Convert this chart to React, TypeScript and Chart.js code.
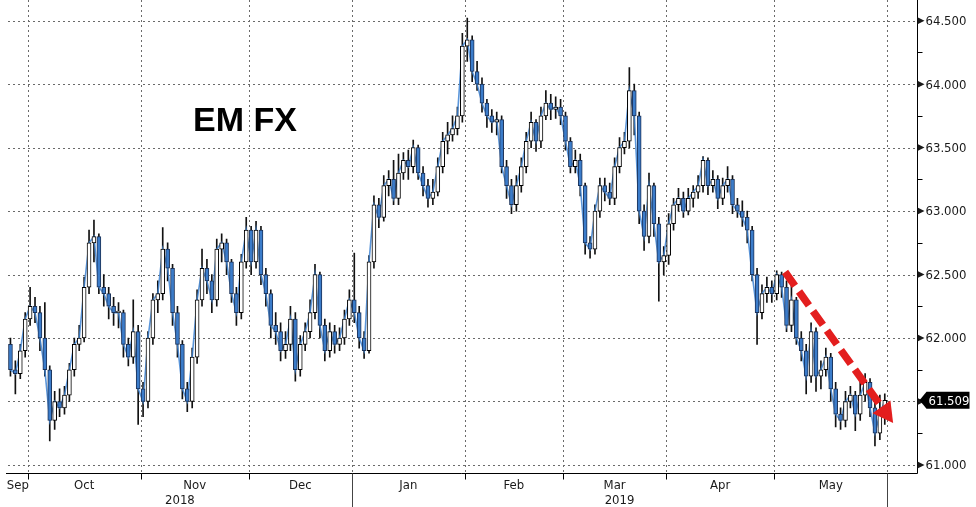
import { useEffect, useRef } from 'react';
import { Chart, registerables } from 'chart.js';

Chart.register(...registerables);

// ---------- data ----------
const START_DATE = '2018-09-25';
const SLOT_COUNT = 185; // trading-day slots on the x axis (data + empty space on the right)
const FIRST_OPEN = 61.95;

const closes = [
  61.75, 61.72, 61.90, 62.15, 62.25, 62.20, 62.00, 61.75, 61.35, 61.50,
  61.45, 61.55, 61.75, 61.95, 62.00, 62.40, 62.75, 62.80, 62.40, 62.35,
  62.25, 62.20, 62.20, 61.95, 61.85, 62.05, 61.60, 61.50, 62.00, 62.30,
  62.35, 62.70, 62.55, 62.20, 61.95, 61.60, 61.50, 61.85, 62.30, 62.55,
  62.45, 62.30, 62.70, 62.75, 62.60, 62.35, 62.20, 62.60, 62.85, 62.60,
  62.85, 62.50, 62.35, 62.10, 62.05, 61.90, 61.95, 62.15, 61.75, 61.95,
  62.05, 62.20, 62.50, 62.10, 61.90, 62.05, 61.95, 62.00, 62.15, 62.30,
  62.20, 62.00, 61.90, 62.60, 63.05, 62.95, 63.20, 63.25, 63.10, 63.30,
  63.40, 63.35, 63.50, 63.30, 63.20, 63.10, 63.15, 63.35, 63.55, 63.60,
  63.65, 63.75, 64.30, 64.35, 64.10, 64.00, 63.85, 63.75, 63.70, 63.72,
  63.35, 63.20, 63.05, 63.20, 63.35, 63.55, 63.70, 63.55, 63.75, 63.85,
  63.80, 63.82, 63.75, 63.55, 63.35, 63.40, 63.20, 62.75, 62.70, 63.00,
  63.20, 63.15, 63.10, 63.35, 63.50, 63.55, 63.95, 63.75, 63.00, 62.80,
  63.20, 62.90, 62.60, 62.65, 62.90, 63.05, 63.10, 63.00, 63.10, 63.15,
  63.20, 63.40, 63.20, 63.25, 63.10, 63.20, 63.25, 63.05, 63.00, 62.95,
  62.85, 62.50, 62.20, 62.35, 62.40, 62.35, 62.50, 62.40, 62.10, 62.30,
  62.00, 61.90, 61.70, 62.05, 61.70, 61.75, 61.85, 61.60, 61.40, 61.35,
  61.50, 61.55, 61.40, 61.55, 61.65, 61.45, 61.25, 61.40, 61.509,
];

const highs = [
  62.00, 61.82, 61.95, 62.20, 62.40, 62.32, 62.25, 62.28, 61.78, 61.58,
  61.60, 61.62, 61.80, 62.00, 62.10, 62.48, 62.85, 62.93, 62.82, 62.50,
  62.40, 62.32, 62.28, 62.22, 62.00, 62.30, 62.10, 61.65, 62.05, 62.35,
  62.45, 62.87, 62.75, 62.58, 62.25, 61.98, 61.65, 61.92, 62.38, 62.70,
  62.62, 62.50, 62.78, 62.82, 62.78, 62.62, 62.40, 62.66, 62.95, 62.88,
  62.92, 62.88, 62.55, 62.38, 62.20, 62.12, 62.05, 62.25, 62.20, 62.02,
  62.12, 62.30, 62.58, 62.52, 62.15, 62.12, 62.10, 62.08, 62.22, 62.38,
  62.67, 62.25, 62.05, 62.65, 63.12, 63.10, 63.28, 63.32, 63.40, 63.45,
  63.46, 63.48, 63.56, 63.52, 63.35, 63.25, 63.25, 63.42, 63.62, 63.70,
  63.75, 63.82, 64.40, 64.52, 64.38, 64.18, 64.05, 63.88, 63.80, 63.78,
  63.75, 63.40, 63.25, 63.28, 63.42, 63.62, 63.78, 63.72, 63.82, 63.95,
  63.92, 63.90, 63.88, 63.78, 63.58, 63.48, 63.45, 63.22, 62.80, 63.05,
  63.26, 63.26, 63.22, 63.42, 63.58, 63.62, 64.13, 64.00, 63.78, 63.05,
  63.30, 63.22, 62.95, 62.72, 62.98, 63.10, 63.18, 63.15, 63.18, 63.20,
  63.28, 63.43, 63.42, 63.32, 63.28, 63.26, 63.35, 63.28, 63.10, 63.08,
  63.00, 62.88, 62.55, 62.42, 62.48, 62.45, 62.53, 62.52, 62.45, 62.42,
  62.32, 62.05, 61.95, 62.12, 62.08, 61.82, 61.92, 61.88, 61.65, 61.45,
  61.58, 61.62, 61.58, 61.65, 61.72, 61.68, 61.50, 61.55, 61.56,
];

const lows = [
  61.70, 61.56, 61.68, 61.85, 62.10, 62.12, 61.90, 61.70, 61.19, 61.28,
  61.38, 61.40, 61.50, 61.70, 61.90, 61.97, 62.35, 62.60, 62.35, 62.25,
  62.15, 62.10, 62.08, 61.85, 61.78, 61.80, 61.32, 61.38, 61.45, 61.95,
  62.20, 62.30, 62.45, 62.10, 61.85, 61.52, 61.42, 61.45, 61.80, 62.25,
  62.35, 62.20, 62.25, 62.60, 62.50, 62.28, 62.10, 62.15, 62.55, 62.50,
  62.55, 62.42, 62.25, 62.00, 61.95, 61.82, 61.84, 61.90, 61.66, 61.70,
  61.90, 62.00, 62.15, 62.00, 61.82, 61.85, 61.88, 61.90, 61.95, 62.10,
  62.12, 61.92, 61.84, 61.88, 62.55, 62.87, 62.92, 63.12, 63.05, 63.05,
  63.25, 63.25, 63.30, 63.25, 63.12, 63.03, 63.05, 63.12, 63.30, 63.45,
  63.55, 63.60, 63.70, 64.18, 64.02, 63.95, 63.78, 63.66, 63.62, 63.60,
  63.30, 63.10, 62.98, 63.00, 63.15, 63.30, 63.50, 63.47, 63.50, 63.72,
  63.72, 63.73, 63.68, 63.48, 63.30, 63.30, 63.12, 62.66, 62.63, 62.66,
  62.95, 63.08, 63.05, 63.05, 63.30, 63.45, 63.50, 63.60, 62.90, 62.69,
  62.75, 62.80, 62.29, 62.50, 62.58, 62.85, 63.00, 62.95, 62.97, 63.03,
  63.10, 63.15, 63.13, 63.15, 63.02, 63.05, 63.15, 62.98, 62.95, 62.88,
  62.75, 62.45, 61.95, 62.15, 62.28, 62.28, 62.30, 62.32, 62.05, 62.05,
  61.95, 61.82, 61.56, 61.65, 61.58, 61.60, 61.70, 61.50, 61.30, 61.28,
  61.30, 61.45, 61.27, 61.35, 61.50, 61.38, 61.15, 61.20, 61.32,
];

const Y_MIN = 60.939;
const Y_MAX = 64.663;
const yMajorTicks = [61.0, 61.5, 62.0, 62.5, 63.0, 63.5, 64.0, 64.5];
const yMinorTicks = [61.25, 61.75, 62.25, 62.75, 63.25, 63.75, 64.25];
const monthNames = ['Jan', 'Feb', 'Mar', 'Apr', 'May', 'Jun', 'Jul', 'Aug', 'Sep', 'Oct', 'Nov', 'Dec'];
const LAST_VALUE = 61.509;
const TITLE = 'EM FX';
const arrowFrom = { index: 157.7, value: 62.52 };
const arrowTo = { index: 179.7, value: 61.33 };

// ---------- helpers ----------
function tradingDays(start: string, n: number): string[] {
  const out: string[] = [];
  const d = new Date(start + 'T00:00:00Z');
  while (out.length < n) {
    const wd = d.getUTCDay();
    if (wd !== 0 && wd !== 6) out.push(d.toISOString().slice(0, 10));
    d.setUTCDate(d.getUTCDate() + 1);
  }
  return out;
}

const labels = tradingDays(START_DATE, SLOT_COUNT);
const opens = closes.map((c, i) => (i === 0 ? FIRST_OPEN : closes[i - 1]));
const isUp = closes.map((c, i) => c >= opens[i]);

const AXIS_FONT = '13px "DejaVu Sans Condensed", "Liberation Sans Narrow", "DejaVu Sans", sans-serif';

const overlayPlugin = {
  id: 'overlay',
  beforeDatasetsDraw(chart: any) {
    const { ctx, chartArea, scales } = chart;
    const xs = scales.x;
    const ys = scales.y;
    const w = xs.getPixelForValue(1) - xs.getPixelForValue(0);
    ctx.save();
    ctx.strokeStyle = '#6a6a6a';
    ctx.lineWidth = 1;
    ctx.setLineDash([2, 3]);
    yMajorTicks.forEach((v) => {
      const y = Math.round(ys.getPixelForValue(v)) + 0.5;
      ctx.beginPath();
      ctx.moveTo(chartArea.left, y);
      ctx.lineTo(chartArea.right, y);
      ctx.stroke();
    });
    for (let i = 1; i < labels.length; i++) {
      if (labels[i].slice(5, 7) !== labels[i - 1].slice(5, 7)) {
        const x = Math.round(xs.getPixelForValue(i) - w / 2) + 0.5;
        ctx.beginPath();
        ctx.moveTo(x, chartArea.top);
        ctx.lineTo(x, chartArea.bottom);
        ctx.stroke();
      }
    }
    ctx.restore();
  },
  afterDatasetsDraw(chart: any) {
    const { ctx, chartArea, scales } = chart;
    const xs = scales.x;
    const ys = scales.y;
    const w = xs.getPixelForValue(1) - xs.getPixelForValue(0);
    const H = chart.height;
    ctx.save();
    ctx.strokeStyle = '#000';
    ctx.lineWidth = 1;
    ctx.setLineDash([]);
    const bx = Math.round(chartArea.right) + 0.5;
    const by = Math.round(chartArea.bottom) + 0.5;
    ctx.beginPath();
    ctx.moveTo(bx, chartArea.top);
    ctx.lineTo(bx, by);
    ctx.moveTo(chartArea.left - 2, by);
    ctx.lineTo(bx, by);
    ctx.stroke();

    ctx.font = AXIS_FONT;
    ctx.fillStyle = '#1a1a1a';
    ctx.textBaseline = 'middle';
    ctx.textAlign = 'left';
    yMinorTicks.forEach((v) => {
      const y = Math.round(ys.getPixelForValue(v)) + 0.5;
      ctx.beginPath();
      ctx.moveTo(bx, y);
      ctx.lineTo(bx + 5, y);
      ctx.stroke();
    });
    yMajorTicks.forEach((v) => {
      const y = ys.getPixelForValue(v);
      ctx.beginPath();
      ctx.moveTo(bx, y - 3.5);
      ctx.lineTo(bx + 7, y);
      ctx.lineTo(bx, y + 3.5);
      ctx.closePath();
      ctx.fill();
      ctx.fillText(v.toFixed(3), bx + 8, y + 1);
    });

    const dataLen = closes.length;
    const boundaries: number[] = [];
    for (let i = 1; i < labels.length; i++) {
      if (labels[i].slice(5, 7) !== labels[i - 1].slice(5, 7)) boundaries.push(i);
    }
    boundaries.forEach((i) => {
      const x = Math.round(xs.getPixelForValue(i) - w / 2) + 0.5;
      const long = labels[i].slice(0, 4) !== labels[i - 1].slice(0, 4) || i === dataLen;
      ctx.beginPath();
      ctx.moveTo(x, by);
      ctx.lineTo(x, long ? H : by + 6);
      ctx.strokeStyle = long ? '#444' : '#000';
      ctx.stroke();
    });
    ctx.textAlign = 'center';
    ctx.fillStyle = '#1a1a1a';
    let segStart = 0;
    for (let i = 1; i <= dataLen; i++) {
      if (i === dataLen || labels[i].slice(5, 7) !== labels[i - 1].slice(5, 7)) {
        const x0 = xs.getPixelForValue(segStart) - w / 2;
        const x1 = xs.getPixelForValue(i) - w / 2;
        const m = parseInt(labels[segStart].slice(5, 7), 10) - 1;
        ctx.fillText(monthNames[m], (x0 + x1) / 2, by + 12);
        segStart = i;
      }
    }
    segStart = 0;
    for (let i = 1; i <= dataLen; i++) {
      if (i === dataLen || labels[i].slice(0, 4) !== labels[i - 1].slice(0, 4)) {
        const x0 = xs.getPixelForValue(segStart) - w / 2;
        const x1 = xs.getPixelForValue(i) - w / 2;
        ctx.fillText(labels[segStart].slice(0, 4), (x0 + x1) / 2, by + 27);
        segStart = i;
      }
    }

    // last value box
    const ly = ys.getPixelForValue(LAST_VALUE);
    ctx.fillStyle = '#000';
    ctx.beginPath();
    ctx.moveTo(bx + 2, ly);
    ctx.lineTo(bx + 9, ly - 8.5);
    ctx.lineTo(bx + 52, ly - 8.5);
    ctx.lineTo(bx + 52, ly + 8.5);
    ctx.lineTo(bx + 9, ly + 8.5);
    ctx.closePath();
    ctx.fill();
    ctx.fillStyle = '#fff';
    ctx.textAlign = 'left';
    ctx.fillText(LAST_VALUE.toFixed(3), bx + 11, ly + 1);

    // title
    ctx.fillStyle = '#000';
    ctx.font = 'bold 34px "Liberation Sans", Arial, sans-serif';
    ctx.textBaseline = 'alphabetic';
    ctx.textAlign = 'left';
    ctx.fillText(TITLE, 193, 131);

    // red dashed arrow
    const ax0 = xs.getPixelForValue(arrowFrom.index);
    const ay0 = ys.getPixelForValue(arrowFrom.value);
    const ax1 = xs.getPixelForValue(arrowTo.index);
    const ay1 = ys.getPixelForValue(arrowTo.value);
    const len = Math.hypot(ax1 - ax0, ay1 - ay0);
    const ux = (ax1 - ax0) / len;
    const uy = (ay1 - ay0) / len;
    const head = 20;
    const hx = ax1 - ux * head;
    const hy = ay1 - uy * head;
    ctx.strokeStyle = '#e31e1e';
    ctx.fillStyle = '#e31e1e';
    ctx.lineWidth = 7.5;
    ctx.setLineDash([17, 7]);
    ctx.beginPath();
    ctx.moveTo(ax0, ay0);
    ctx.lineTo(hx, hy);
    ctx.stroke();
    ctx.setLineDash([]);
    ctx.beginPath();
    ctx.moveTo(ax1, ay1);
    ctx.lineTo(hx - uy * 11, hy + ux * 11);
    ctx.lineTo(hx + uy * 11, hy - ux * 11);
    ctx.closePath();
    ctx.fill();
    ctx.restore();
  },
};

export default function App() {
  const canvasRef = useRef<HTMLCanvasElement | null>(null);

  useEffect(() => {
    if (!canvasRef.current) return;
    const wickData = highs.map((h, i) => [lows[i], h]);
    const bodyData = closes.map((c, i) => [Math.min(opens[i], c), Math.max(opens[i], c)]);
    const chart = new Chart(canvasRef.current, {
      type: 'bar',
      data: {
        labels,
        datasets: [
          {
            label: 'range',
            data: wickData as any,
            backgroundColor: '#111',
            borderWidth: 0,
            barThickness: 1,
            grouped: false,
            order: 3,
          },
          {
            type: 'line',
            label: 'close',
            data: closes as any,
            borderColor: 'rgba(62,132,212,0.85)',
            borderWidth: 1.6,
            pointRadius: 0,
            tension: 0,
            order: 2,
          } as any,
          {
            label: 'body',
            data: bodyData as any,
            backgroundColor: (c: any) => (isUp[c.dataIndex] ? '#ffffff' : '#3b7cca'),
            borderColor: (c: any) => (isUp[c.dataIndex] ? '#000000' : '#1c3258'),
            borderWidth: 1,
            borderSkipped: false,
            barThickness: 4,
            minBarLength: 1.5,
            grouped: false,
            order: 1,
          },
        ],
      },
      options: {
        animation: false,
        responsive: true,
        maintainAspectRatio: false,
        events: [],
        layout: { padding: { left: 8, right: 59.3, top: 0, bottom: 34.3 } },
        plugins: { legend: { display: false }, tooltip: { enabled: false } },
        scales: {
          x: { type: 'category', display: false, offset: true },
          y: { type: 'linear', display: false, min: Y_MIN, max: Y_MAX },
        },
      },
      plugins: [overlayPlugin],
    });
    return () => chart.destroy();
  }, []);

  return (
    <div style={{ position: 'absolute', left: 0, top: 0, width: 976, height: 507, background: '#fff' }}>
      <canvas ref={canvasRef} />
    </div>
  );
}
